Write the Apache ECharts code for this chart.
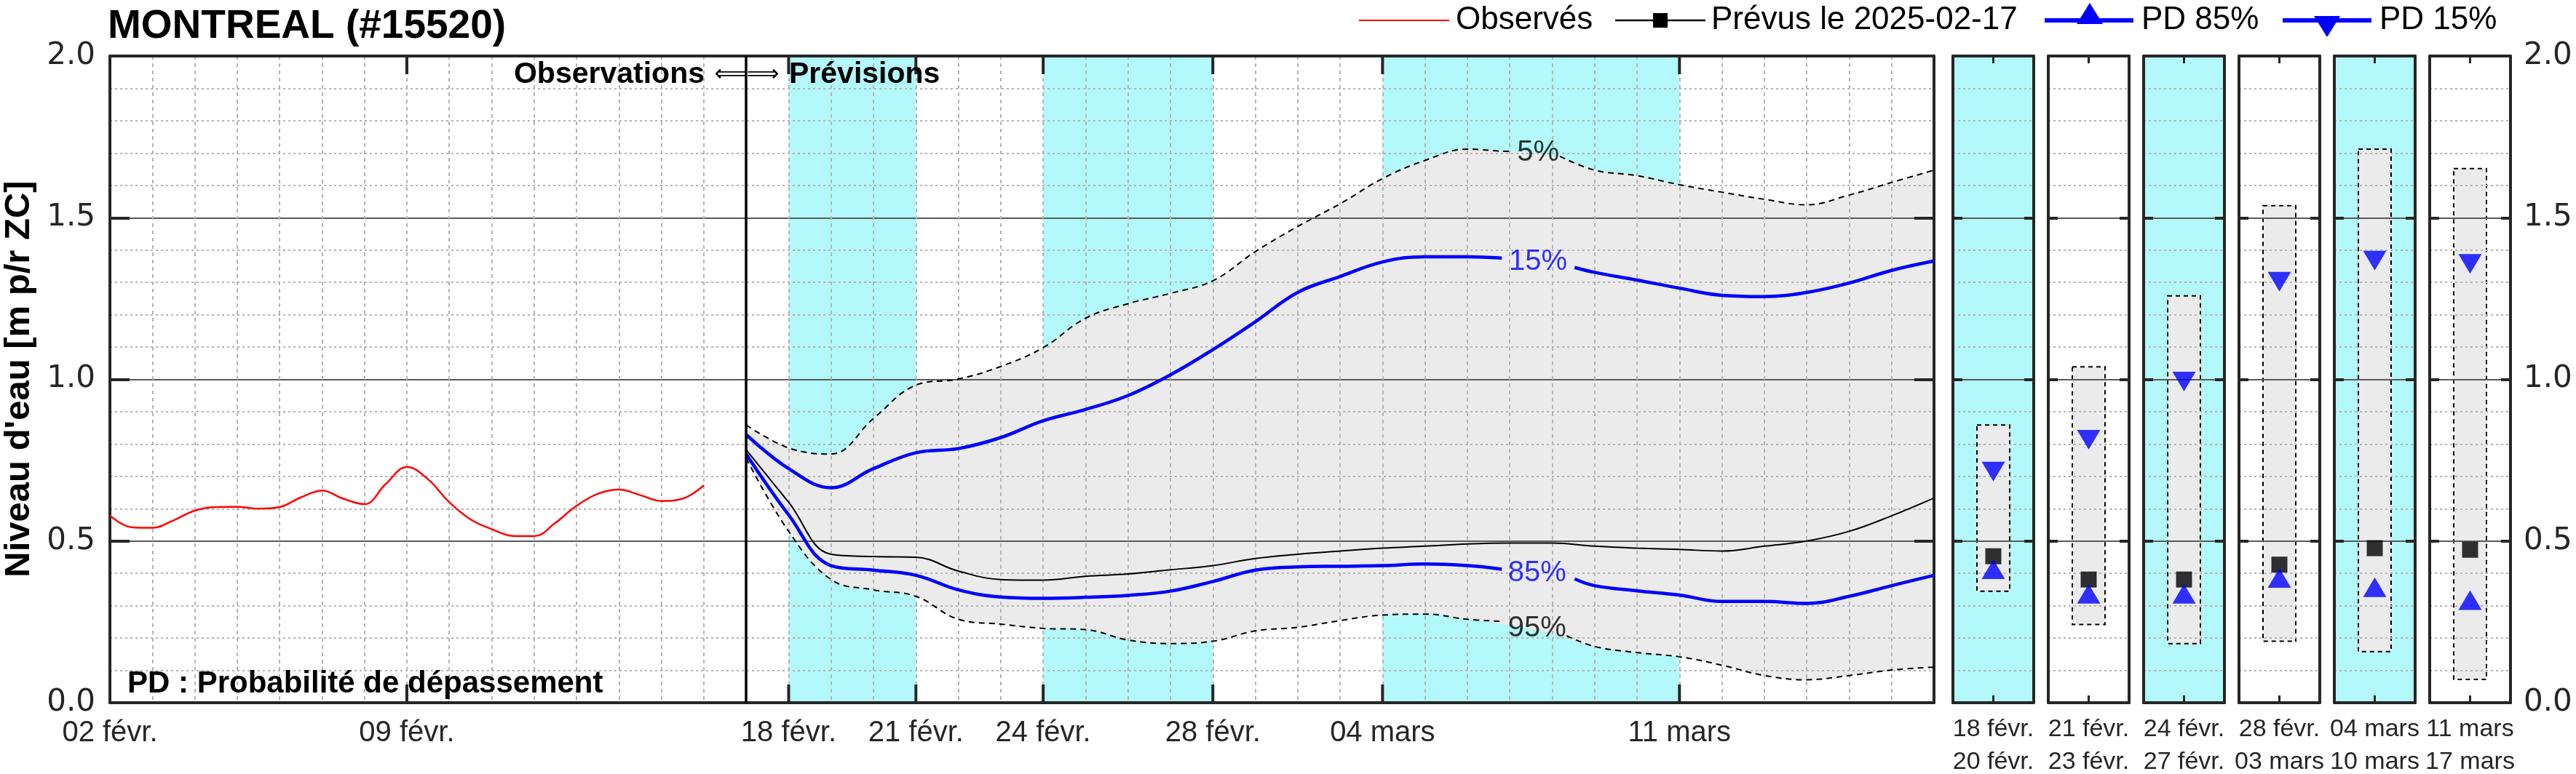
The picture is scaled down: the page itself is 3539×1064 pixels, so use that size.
<!DOCTYPE html>
<html><head><meta charset="utf-8">
<script src="https://cdn.jsdelivr.net/npm/echarts@6/dist/echarts.min.js"></script>
<style>html,body{margin:0;padding:0;background:#fff}#c{width:3539px;height:1064px}</style>
</head><body><div id="c"></div>
<script>
// ---------------- DATA ----------------
const axisMin = '2025-02-02';
const axisMax = '2025-03-17';
const forecastStart = '2025-02-17';
const tickDates = ['2025-02-02','2025-02-09','2025-02-18','2025-02-21','2025-02-24','2025-02-28','2025-03-04','2025-03-11'];
const tickLabels = ['02 févr.','09 févr.','18 févr.','21 févr.','24 févr.','28 févr.','04 mars','11 mars'];
const cyanStart = ['2025-02-18','2025-02-24','2025-03-04'];
const cyanEnd   = ['2025-02-21','2025-02-28','2025-03-11'];

const obsTimes = ['2025-02-02T00:00','2025-02-02T12:00','2025-02-03T00:00','2025-02-03T12:00','2025-02-04T00:00','2025-02-04T12:00',
  '2025-02-05T00:00','2025-02-05T12:00','2025-02-06T00:00','2025-02-06T12:00','2025-02-07T00:00','2025-02-07T12:00',
  '2025-02-08T00:00','2025-02-08T12:00','2025-02-09T00:00','2025-02-09T12:00','2025-02-10T00:00','2025-02-10T12:00',
  '2025-02-11T00:00','2025-02-11T12:00','2025-02-12T00:00','2025-02-12T12:00','2025-02-13T00:00','2025-02-13T12:00',
  '2025-02-14T00:00','2025-02-14T12:00','2025-02-15T00:00','2025-02-15T12:00','2025-02-16T00:00'];
const observed = [0.579,0.543,0.541,0.564,0.594,0.605,0.606,0.600,0.605,0.635,0.656,0.631,0.614,0.676,0.729,0.691,
  0.620,0.567,0.537,0.516,0.515,0.556,0.609,0.646,0.659,0.642,0.624,0.631,0.672];

const fcDates = ['2025-02-17','2025-02-18','2025-02-19','2025-02-20','2025-02-21','2025-02-22','2025-02-23','2025-02-24',
  '2025-02-25','2025-02-26','2025-02-27','2025-02-28','2025-03-01','2025-03-02','2025-03-03','2025-03-04','2025-03-05',
  '2025-03-06','2025-03-07','2025-03-08','2025-03-09','2025-03-10','2025-03-11','2025-03-12','2025-03-13','2025-03-14',
  '2025-03-15','2025-03-16','2025-03-17'];
const p5  = [0.859,0.788,0.769,0.879,0.982,1.001,1.040,1.098,1.189,1.234,1.266,1.305,1.395,1.473,1.543,1.621,1.677,1.712,1.705,1.692,1.647,1.630,1.602,1.579,1.557,1.540,1.570,1.609,1.647];
const p15 = [0.829,0.724,0.665,0.724,0.773,0.786,0.820,0.872,0.907,0.950,1.014,1.092,1.178,1.269,1.318,1.363,1.379,1.379,1.373,1.360,1.331,1.307,1.282,1.260,1.256,1.269,1.298,1.337,1.366];
const prevus = [0.782,0.620,0.459,0.452,0.450,0.407,0.381,0.379,0.391,0.398,0.411,0.424,0.446,0.459,0.469,0.478,0.484,0.491,0.494,0.494,0.484,0.478,0.474,0.469,0.484,0.500,0.530,0.578,0.633];
const p85 = [0.769,0.581,0.424,0.410,0.394,0.349,0.327,0.323,0.326,0.332,0.345,0.375,0.410,0.420,0.422,0.424,0.429,0.424,0.407,0.385,0.362,0.346,0.333,0.313,0.313,0.307,0.329,0.362,0.394];
const p95 = [0.756,0.530,0.381,0.349,0.329,0.258,0.243,0.230,0.226,0.194,0.183,0.190,0.222,0.233,0.254,0.271,0.274,0.258,0.239,0.213,0.174,0.155,0.142,0.116,0.084,0.071,0.084,0.101,0.110];

// inline curve labels (order: 5%, 15%, 85%, 95%)
const labelTexts  = ['5%','15%','85%','95%'];
const labelDates  = ['2025-03-07T16:00','2025-03-07T16:00','2025-03-07T15:30','2025-03-07T15:30'];
const labelValues = [1.700,1.363,0.400,0.229];
const gapFrom     = ['2025-03-07T00:30','2025-03-06T19:30','2025-03-06T19:30','2025-03-06T18:15'];
const gapFromVal  = [1.706,1.375,0.413,0.252];
const gapTo       = ['2025-03-08T04:20','2025-03-08T12:40','2025-03-08T12:40','2025-03-08T08:10'];
const gapToVal    = [1.690,1.346,0.383,0.207];

// weekly panels
const periodStart = ['18 févr.','21 févr.','24 févr.','28 févr.','04 mars','11 mars'];
const periodEnd   = ['20 févr.','23 févr.','27 févr.','03 mars','10 mars','17 mars'];
const panelP5     = [0.859,1.039,1.258,1.537,1.712,1.652];
const panelP95    = [0.345,0.242,0.183,0.190,0.158,0.072];
const panelP15    = [0.715,0.813,0.993,1.302,1.367,1.357];
const panelPrevus = [0.453,0.381,0.381,0.427,0.478,0.473];
const panelP85    = [0.413,0.337,0.337,0.386,0.357,0.317];
const panelCyan   = [true,false,true,false,true,false];

// ---------------- BUILD ----------------
const DAY = 86400000;
const SMOOTH = 0.4;
const T = s => Date.parse(s.length <= 10 ? s + 'T00:00Z' : s + 'Z');
const pair = (ts, vs) => ts.map((t, i) => [T(t), vs[i]]);
function withGap(ts, vs, k) {
  const a = T(gapFrom[k]), b = T(gapTo[k]), out = [];
  ts.forEach((t, i) => { if (T(t) < a) out.push([T(t), vs[i]]); });
  out.push([a, gapFromVal[k]]);
  out.push([(a + b) / 2, '-']);
  out.push([b, gapToVal[k]]);
  ts.forEach((t, i) => { if (T(t) > b) out.push([T(t), vs[i]]); });
  return out;
}
// bezier segments using the same control-point rule as ECharts' smoothed lines
function smoothSegs(pts, smooth) {
  const segs = [];
  let cpx0 = pts[0][0], cpy0 = pts[0][1];
  const mn = Math.min, mx = Math.max;
  for (let i = 1; i < pts.length; i++) {
    const px = pts[i - 1][0], py = pts[i - 1][1], x = pts[i][0], y = pts[i][1];
    let cpx1, cpy1, ncx = x, ncy = y;
    if (i === pts.length - 1) { cpx1 = x; cpy1 = y; }
    else {
      const nx = pts[i + 1][0], ny = pts[i + 1][1];
      let vx = nx - px, vy = ny - py;
      const lp = Math.hypot(x - px, y - py), ln = Math.hypot(nx - x, ny - y);
      const r = ln / (ln + lp);
      ncx = x + vx * smooth * r; ncy = y + vy * smooth * r;
      ncx = mx(mn(ncx, mx(nx, x)), mn(nx, x)); ncy = mx(mn(ncy, mx(ny, y)), mn(ny, y));
      vx = ncx - x; vy = ncy - y;
      cpx1 = x - vx * lp / ln; cpy1 = y - vy * lp / ln;
      cpx1 = mx(mn(cpx1, mx(px, x)), mn(px, x)); cpy1 = mx(mn(cpy1, mx(py, y)), mn(py, y));
      vx = x - cpx1; vy = y - cpy1;
      ncx = x + vx * ln / lp; ncy = y + vy * ln / lp;
    }
    segs.push([cpx0, cpy0, cpx1, cpy1, x, y]);
    cpx0 = ncx; cpy0 = ncy;
  }
  return segs;
}
const CYAN = '#b3f8fa', GREY = '#ebebeb', FRAME = '#262626', BLUE = '#0000ff';
const GRIDC = '#b4b4b4';
const F = '"Liberation Sans", Arial, sans-serif';
const tickMs = tickDates.map(T);

const grids = [], xAxes = [], yAxes = [], series = [];
const MAIN = {left: 151, top: 77, width: 2506, height: 889};
grids.push({left: MAIN.left, top: MAIN.top, width: MAIN.width, height: MAIN.height, outerBoundsMode: 'none', containLabel: false, show: false});

xAxes.push({gridIndex: 0, type: 'value', min: T(axisMin), max: T(axisMax), interval: DAY, position: 'bottom', z: 3,
  axisLine: {show: true, onZero: false, lineStyle: {color: FRAME, width: 4}},
  axisTick: {show: false},
  splitLine: {show: true, lineStyle: {color: GRIDC, width: 2, type: [5, 5]}},
  axisLabel: {show: true, showMinLabel: true, showMaxLabel: true, margin: 22, fontSize: 40, fontFamily: F, color: FRAME,
    formatter: v => { const i = tickMs.findIndex(m => Math.abs(m - v) < 60000); return i >= 0 ? tickLabels[i] : ''; }}
});
xAxes.push({gridIndex: 0, type: 'value', min: T(axisMin), max: T(axisMax), position: 'top', z: 3,
  axisLine: {show: true, onZero: false, lineStyle: {color: FRAME, width: 4}},
  axisTick: {show: false}, axisLabel: {show: false}, splitLine: {show: false}});

yAxes.push({gridIndex: 0, type: 'value', min: 0, max: 2, interval: 0.1, z: 3,
  axisLine: {show: false}, axisTick: {show: false}, axisLabel: {show: false},
  splitLine: {show: true, lineStyle: {color: GRIDC, width: 2, type: [3, 4]}}});
yAxes.push({gridIndex: 0, type: 'value', min: 0, max: 2, interval: 0.5, position: 'left', z: 3,
  axisLine: {show: true, onZero: false, lineStyle: {color: FRAME, width: 4}},
  axisTick: {show: true, inside: true, length: 27, lineStyle: {color: FRAME, width: 4}},
  axisLabel: {show: true, margin: 20, fontSize: 42, fontFamily: '"DejaVu Sans", sans-serif', color: FRAME, formatter: v => v.toFixed(1)},
  splitLine: {show: true, lineStyle: {color: '#5a5a5a', width: 2, type: 'solid'}}});
yAxes.push({gridIndex: 0, type: 'value', min: 0, max: 2, interval: 0.5, position: 'right', z: 3,
  axisLine: {show: true, onZero: false, lineStyle: {color: FRAME, width: 4}},
  axisTick: {show: true, inside: true, length: 27, lineStyle: {color: FRAME, width: 4}},
  axisLabel: {show: false}, splitLine: {show: false}});

// cyan bands
series.push({type: 'line', xAxisIndex: 0, yAxisIndex: 1, z: 1, silent: true, data: [], symbol: 'none',
  markArea: {silent: true, itemStyle: {color: CYAN, opacity: 1}, label: {show: false},
    data: cyanStart.map((s, i) => [{xAxis: T(s)}, {xAxis: T(cyanEnd[i])}])}});
// grey 5%-95% envelope
series.push({type: 'custom', xAxisIndex: 0, yAxisIndex: 1, z: 2, silent: true,
  data: [[T(fcDates[0]), p5[0]]], encode: {x: 0, y: 1},
  renderItem: (params, api) => {
    const up = fcDates.map((t, i) => api.coord([T(t), p5[i]]));
    const lo = fcDates.map((t, i) => api.coord([T(t), p95[i]])).reverse();
    let d = 'M' + up[0][0] + ',' + up[0][1];
    smoothSegs(up, SMOOTH).forEach(s => { d += 'C' + s.join(','); });
    d += 'L' + lo[0][0] + ',' + lo[0][1];
    smoothSegs(lo, SMOOTH).forEach(s => { d += 'C' + s.join(','); });
    d += 'Z';
    return {type: 'path', shape: {pathData: d}, style: {fill: GREY, stroke: null, lineWidth: 0}};
  }});
// lines
const lineDefs = [
  {vals: p5, k: 0, color: '#000', width: 2, type: [8, 6]},
  {vals: p15, k: 1, color: BLUE, width: 4.5, type: 'solid'},
  {vals: p85, k: 2, color: BLUE, width: 4.5, type: 'solid'},
  {vals: p95, k: 3, color: '#000', width: 2, type: [8, 6]}
];
lineDefs.forEach(d => series.push({type: 'line', xAxisIndex: 0, yAxisIndex: 1, z: 4, silent: true, smooth: SMOOTH, symbol: 'none',
  connectNulls: false, lineStyle: {color: d.color, width: d.width, type: d.type}, data: withGap(fcDates, d.vals, d.k)}));
series.push({type: 'line', name: 'Prévus', xAxisIndex: 0, yAxisIndex: 1, z: 4, silent: true, smooth: SMOOTH, symbol: 'none',
  lineStyle: {color: '#000', width: 2}, data: pair(fcDates, prevus)});
series.push({type: 'line', name: 'Observés', xAxisIndex: 0, yAxisIndex: 1, z: 4, silent: true, smooth: SMOOTH, symbol: 'none',
  lineStyle: {color: '#ff0000', width: 2.5}, data: pair(obsTimes, observed),
  markLine: {silent: true, symbol: ['none', 'none'], label: {show: false}, animation: false,
    lineStyle: {color: '#000', width: 3.5, type: 'solid'}, data: [{xAxis: T(forecastStart)}]}});
// curve labels
series.push({type: 'scatter', xAxisIndex: 0, yAxisIndex: 1, z: 6, silent: true, symbolSize: 0,
  data: labelTexts.map((t, i) => ({value: [T(labelDates[i]), labelValues[i]],
    label: {color: (t === '15%' || t === '85%') ? BLUE : '#000'}})),
  label: {show: true, position: 'inside', fontSize: 40, fontFamily: F, formatter: p => labelTexts[p.dataIndex]}});
// major date ticks (top & bottom, inside)
series.push({type: 'custom', xAxisIndex: 0, yAxisIndex: 1, z: 5, silent: true, clip: false,
  data: tickDates.map(d => [T(d), 0]), encode: {x: 0, y: 1},
  renderItem: (params, api) => {
    const b = api.coord([api.value(0), 0]), t = api.coord([api.value(0), 2]);
    const st = {stroke: FRAME, lineWidth: 4};
    return {type: 'group', children: [
      {type: 'line', shape: {x1: b[0], y1: b[1], x2: b[0], y2: b[1] - 25}, style: st},
      {type: 'line', shape: {x1: t[0], y1: t[1], x2: t[0], y2: t[1] + 25}, style: st}]};
  }});

// panels
const PANEL_L0 = 2683, PANEL_STEP = 131, PANEL_W = 111;
periodStart.forEach((ps, i) => {
  const g = grids.length;
  grids.push({left: PANEL_L0 + PANEL_STEP * i, top: MAIN.top, width: PANEL_W, height: MAIN.height, outerBoundsMode: 'none',
    containLabel: false, show: true, backgroundColor: panelCyan[i] ? CYAN : '#ffffff', borderWidth: 0, z: 0});
  const cat = [ps + '\n' + periodEnd[i]];
  const xb = xAxes.length;
  xAxes.push({gridIndex: g, type: 'category', data: cat, position: 'bottom', boundaryGap: true, z: 3,
    axisLine: {show: true, onZero: false, lineStyle: {color: FRAME, width: 4}},
    axisTick: {show: true, inside: true, alignWithLabel: true, length: 10, lineStyle: {color: FRAME, width: 3}},
    axisLabel: {show: true, interval: 0, margin: 14, fontSize: 34, lineHeight: 45, fontFamily: F, color: FRAME},
    splitLine: {show: false}});
  xAxes.push({gridIndex: g, type: 'category', data: cat, position: 'top', boundaryGap: true, z: 3,
    axisLine: {show: true, onZero: false, lineStyle: {color: FRAME, width: 4}},
    axisTick: {show: true, inside: true, alignWithLabel: true, length: 10, lineStyle: {color: FRAME, width: 3}},
    axisLabel: {show: false}, splitLine: {show: false}});
  yAxes.push({gridIndex: g, type: 'value', min: 0, max: 2, interval: 0.1, z: 3,
    axisLine: {show: false}, axisTick: {show: false}, axisLabel: {show: false},
    splitLine: {show: true, lineStyle: {color: GRIDC, width: 2, type: [3, 4]}}});
  const ym = yAxes.length;
  yAxes.push({gridIndex: g, type: 'value', min: 0, max: 2, interval: 0.5, position: 'left', z: 3,
    axisLine: {show: true, onZero: false, lineStyle: {color: FRAME, width: 4}},
    axisTick: {show: true, inside: true, length: 13, lineStyle: {color: FRAME, width: 4}},
    axisLabel: {show: false},
    splitLine: {show: true, lineStyle: {color: '#5a5a5a', width: 2, type: 'solid'}}});
  const last = i === periodStart.length - 1;
  yAxes.push({gridIndex: g, type: 'value', min: 0, max: 2, interval: 0.5, position: 'right', z: 3,
    axisLine: {show: true, onZero: false, lineStyle: {color: FRAME, width: 4}},
    axisTick: {show: true, inside: true, length: 13, lineStyle: {color: FRAME, width: 4}},
    axisLabel: {show: last, margin: 18, fontSize: 42, fontFamily: '"DejaVu Sans", sans-serif', color: FRAME, formatter: v => v.toFixed(1)},
    splitLine: {show: false}});
  series.push({type: 'custom', xAxisIndex: xb, yAxisIndex: ym, z: 2, silent: true,
    data: [[0, panelP95[i], panelP5[i]]], encode: {x: 0, y: [1, 2]},
    renderItem: (params, api) => {
      const lo = api.coord([api.value(0), api.value(1)]), hi = api.coord([api.value(0), api.value(2)]);
      const w = 45;
      return {type: 'rect', shape: {x: hi[0] - w / 2, y: hi[1], width: w, height: lo[1] - hi[1]},
        style: {fill: GREY, stroke: '#000', lineWidth: 2, lineDash: [6, 5]}};
    }});
  series.push({type: 'scatter', xAxisIndex: xb, yAxisIndex: ym, z: 5, silent: true, symbol: 'rect', symbolSize: 22,
    itemStyle: {color: '#000'}, data: [[0, panelPrevus[i]]]});
  series.push({type: 'scatter', xAxisIndex: xb, yAxisIndex: ym, z: 5, silent: true, symbol: 'triangle', symbolSize: [32, 27],
    itemStyle: {color: BLUE}, data: [[0, panelP85[i]]]});
  series.push({type: 'scatter', xAxisIndex: xb, yAxisIndex: ym, z: 5, silent: true, symbol: 'triangle', symbolSize: [32, 27],
    symbolRotate: 180, itemStyle: {color: BLUE}, data: [[0, panelP15[i]]]});
});

// ---------------- TEXT / LEGEND ----------------
function txt(x, y, text, size, weight, align, color, family, extra) {
  return Object.assign({type: 'text', x: x, y: y, z: 20, silent: true,
    style: {text: text, fontSize: size, fontWeight: weight, fontFamily: family || F, fill: color || '#000',
      align: align, textAlign: align, verticalAlign: 'middle', textVerticalAlign: 'middle'}}, extra || {});
}
const graphic = [
  txt(148, 37, 'MONTREAL (#15520)', 55, 'bold', 'left'),
  txt(26, 521, "Niveau d'eau [m p/r ZC]", 49, 'bold', 'center', '#000', F, {rotation: Math.PI / 2}),
  txt(968, 103, 'Observations', 41, 'bold', 'right'),
  txt(1026, 103, '⟸⟹', 31, 'normal', 'center', '#000', '"DejaVu Sans", sans-serif'),
  txt(1084, 103, 'Prévisions', 41, 'bold', 'left'),
  txt(175, 940, 'PD : Probabilité de dépassement', 42, 'bold', 'left'),
  // legend
  {type: 'line', z: 20, silent: true, shape: {x1: 1867, y1: 28, x2: 1991, y2: 28}, style: {stroke: '#ff0000', lineWidth: 2}},
  txt(2000, 28, 'Observés', 44, 'normal', 'left'),
  {type: 'line', z: 20, silent: true, shape: {x1: 2219, y1: 28, x2: 2343, y2: 28}, style: {stroke: '#000', lineWidth: 2.5}},
  {type: 'rect', z: 21, silent: true, shape: {x: 2271, y: 18, width: 20, height: 20}, style: {fill: '#000'}},
  txt(2351, 28, 'Prévus le 2025-02-17', 44, 'normal', 'left'),
  {type: 'line', z: 20, silent: true, shape: {x1: 2809, y1: 28, x2: 2931, y2: 28}, style: {stroke: BLUE, lineWidth: 6}},
  {type: 'polygon', z: 21, silent: true, shape: {points: [[2853, 33], [2889, 33], [2871, 4]]}, style: {fill: BLUE}},
  txt(2942, 28, 'PD 85%', 44, 'normal', 'left'),
  {type: 'line', z: 20, silent: true, shape: {x1: 3136, y1: 28, x2: 3258, y2: 28}, style: {stroke: BLUE, lineWidth: 6}},
  {type: 'polygon', z: 21, silent: true, shape: {points: [[3179, 22], [3215, 22], [3197, 51]]}, style: {fill: BLUE}},
  txt(3269, 28, 'PD 15%', 44, 'normal', 'left')
];

const chart = echarts.init(document.getElementById('c'), null, {renderer: 'canvas', width: 3539, height: 1064});
chart.setOption({
  animation: false,
  backgroundColor: '#ffffff',
  grid: grids, xAxis: xAxes, yAxis: yAxes, series: series, graphic: graphic
});
</script>
</body></html>
